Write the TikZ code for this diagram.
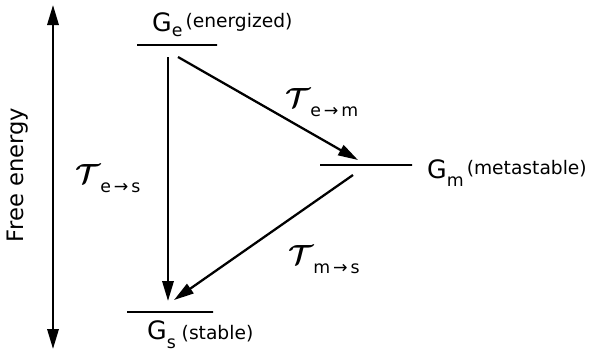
\documentclass[tikz,border=0pt]{standalone}
\usepackage{fontspec}
\usepackage{amsmath}
\setmainfont{DejaVu Sans}
\usetikzlibrary{arrows.meta,positioning}
\newcommand{\lvlsym}[2]{{\fontsize{19}{19}\selectfont G}\raisebox{-#2}{\fontsize{13}{13}\selectfont #1}}
\newcommand{\rate}[2]{{\fontsize{22}{22}\selectfont$\boldsymbol{\mathcal{T}}$}\raisebox{-7pt}{\fontsize{13}{13}\selectfont #1\,→\,#2}}

\begin{document}
\begin{tikzpicture}[x=0.75pt, y=-0.75pt, line width=1.7pt,
  lvl/.style={draw, inner sep=0pt, minimum height=0pt},
  tr/.style={-{Triangle[length=15pt,width=8.5pt]}},
  lab/.style={anchor=base west, inner sep=0pt, font=\fontsize{14}{14}\selectfont}]
\useasboundingbox (0,0) rectangle (601,354);
\node[lvl, minimum width=60pt] (ge) at (177,45) {};
\node[lvl, minimum width=69pt] (gm) at (366,165) {};
\node[lvl, minimum width=64.5pt] (gs) at (170,312) {};
\node[lab] (ge-lab) at (151,31) {\lvlsym{e}{4pt}\,\raisebox{3pt}{(energized)}};
\node[lab] (gm-lab) at (426,178) {\lvlsym{m}{6pt}\,\raisebox{3pt}{(metastable)}};
\node[lab] (gs-lab) at (146,339) {\lvlsym{s}{7pt}\ (stable)};
\node[lab] (t-em) at (284,107) {\rate{e}{m}};
\node[lab] (t-es) at (74,183) {\rate{e}{s}};
\node[lab] (t-ms) at (287,264) {\rate{m}{s}};
\coordinate (fe-top) at (53,5);
\coordinate (fe-bot) at (53,349);
\node[rotate=90, font=\fontsize{17}{17}\selectfont] (fe-lab) at (18,175) {Free energy};
\draw[{Triangle[length=15pt,width=8.5pt]}-{Triangle[length=15pt,width=8.5pt]}] (fe-top) -- (fe-bot);
\draw[tr] ([shift={(-9,12)}]ge.center) -- ([shift={(-2,-11)}]gs.center);
\draw[tr] ([shift={(1,12)}]ge.center) -- ([shift={(-8,-5)}]gm.center);
\draw[tr] ([shift={(-13,10)}]gm.center) -- ([shift={(4,-12)}]gs.center);
\end{tikzpicture}
\end{document}
